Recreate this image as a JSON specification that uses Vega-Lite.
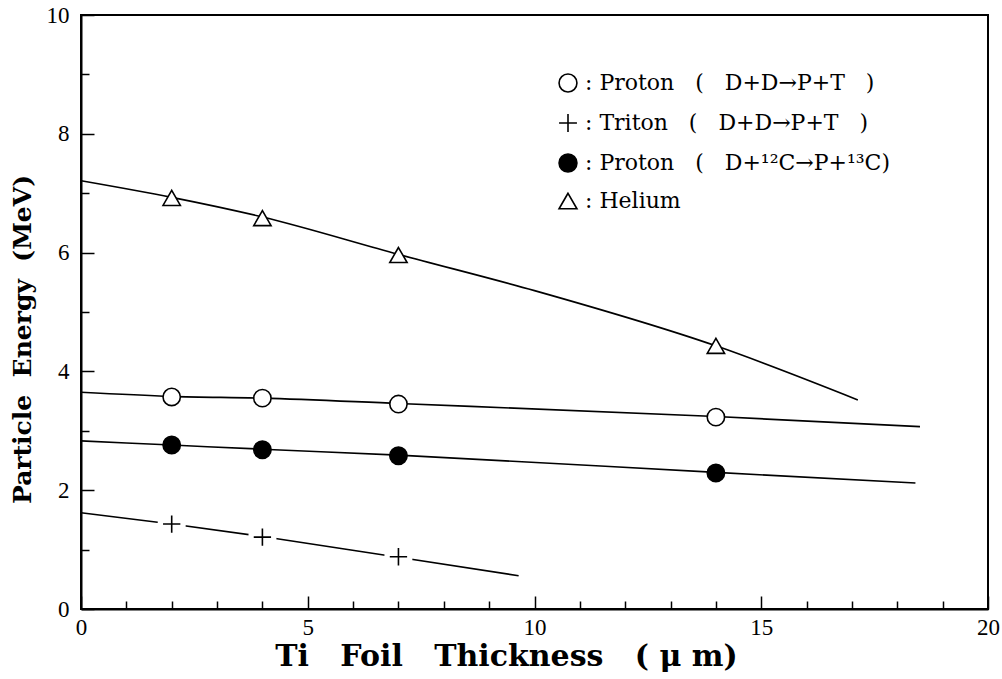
{
  "$schema": "https://vega.github.io/schema/vega-lite/v6.json",
  "width": 907,
  "height": 594,
  "autosize": "none",
  "padding": {"left": 81, "top": 15, "right": 14, "bottom": 70},
  "background": "white",
  "config": {
    "view": {"stroke": "black", "strokeWidth": 2},
    "font": "DejaVu Serif"
  },
  "datasets": {
    "points": [
      {"series": "Proton ( D+D→P+T )", "t": 2, "e": 3.57},
      {"series": "Proton ( D+D→P+T )", "t": 4, "e": 3.55},
      {"series": "Proton ( D+D→P+T )", "t": 7, "e": 3.45},
      {"series": "Proton ( D+D→P+T )", "t": 14, "e": 3.23},
      {"series": "Triton ( D+D→P+T )", "t": 2, "e": 1.43},
      {"series": "Triton ( D+D→P+T )", "t": 4, "e": 1.21},
      {"series": "Triton ( D+D→P+T )", "t": 7, "e": 0.88},
      {"series": "Proton ( D+¹²C→P+¹³C)", "t": 2, "e": 2.76},
      {"series": "Proton ( D+¹²C→P+¹³C)", "t": 4, "e": 2.68},
      {"series": "Proton ( D+¹²C→P+¹³C)", "t": 7, "e": 2.58},
      {"series": "Proton ( D+¹²C→P+¹³C)", "t": 14, "e": 2.29},
      {"series": "Helium", "t": 2, "e": 6.92},
      {"series": "Helium", "t": 4, "e": 6.58},
      {"series": "Helium", "t": 7, "e": 5.96},
      {"series": "Helium", "t": 14, "e": 4.43}
    ],
    "curves": [
      {"series": "Helium", "t": 0, "e": 7.21},
      {"series": "Helium", "t": 2, "e": 6.93},
      {"series": "Helium", "t": 4, "e": 6.6},
      {"series": "Helium", "t": 7, "e": 5.97},
      {"series": "Helium", "t": 10, "e": 5.36},
      {"series": "Helium", "t": 14, "e": 4.43},
      {"series": "Helium", "t": 17.13, "e": 3.52},
      {"series": "Proton ( D+D→P+T )", "t": 0, "e": 3.65},
      {"series": "Proton ( D+D→P+T )", "t": 2, "e": 3.58},
      {"series": "Proton ( D+D→P+T )", "t": 4, "e": 3.55},
      {"series": "Proton ( D+D→P+T )", "t": 7, "e": 3.46},
      {"series": "Proton ( D+D→P+T )", "t": 14, "e": 3.24},
      {"series": "Proton ( D+D→P+T )", "t": 18.5, "e": 3.07},
      {"series": "Proton ( D+¹²C→P+¹³C)", "t": 0, "e": 2.83},
      {"series": "Proton ( D+¹²C→P+¹³C)", "t": 2, "e": 2.76},
      {"series": "Proton ( D+¹²C→P+¹³C)", "t": 4, "e": 2.69},
      {"series": "Proton ( D+¹²C→P+¹³C)", "t": 7, "e": 2.59},
      {"series": "Proton ( D+¹²C→P+¹³C)", "t": 14, "e": 2.3},
      {"series": "Proton ( D+¹²C→P+¹³C)", "t": 18.4, "e": 2.12},
      {"series": "Triton ( D+D→P+T )", "t": 0, "e": 1.62},
      {"series": "Triton ( D+D→P+T )", "t": 2, "e": 1.43},
      {"series": "Triton ( D+D→P+T )", "t": 4, "e": 1.22},
      {"series": "Triton ( D+D→P+T )", "t": 7, "e": 0.87},
      {"series": "Triton ( D+D→P+T )", "t": 9.65, "e": 0.56}
    ]
  },
  "encoding": {
    "x": {
      "field": "t", "type": "quantitative",
      "scale": {"domain": [0, 20], "nice": false, "zero": false},
      "axis": {
        "title": "Ti\u00a0\u00a0\u00a0Foil\u00a0\u00a0\u00a0Thickness\u00a0\u00a0\u00a0(\u00a0μ\u00a0m)",
        "titleFont": "DejaVu Serif", "titleFontSize": 30, "titleFontWeight": "bold",
        "titleX": 425, "titleY": 32, "titleBaseline": "top",
        "values": [0,1,2,3,4,5,6,7,8,9,10,11,12,13,14,15,16,17,18,19,20],
        "labelExpr": "datum.value % 5 === 0 ? datum.label : ''",
        "labelFont": "Liberation Serif", "labelFontSize": 23, "labelColor": "black",
        "labelPadding": 20,
        "tickSize": {"condition": {"test": "datum.value % 5 === 0", "value": -13}, "value": -8},
        "tickColor": "black", "tickWidth": 1.5,
        "domainColor": "black", "domainWidth": 2,
        "grid": false, "labelFlush": false, "labelOverlap": false
      }
    },
    "y": {
      "field": "e", "type": "quantitative",
      "scale": {"domain": [0, 10], "nice": false},
      "axis": {
        "title": "Particle\u00a0\u00a0Energy\u00a0\u00a0(MeV)",
        "titleFont": "DejaVu Serif", "titleFontSize": 25, "titleFontWeight": "bold",
        "titleX": -46, "titleY": 324,
        "values": [0,1,2,3,4,5,6,7,8,9,10],
        "labelExpr": "datum.value % 2 === 0 ? datum.label : ''",
        "labelFont": "Liberation Serif", "labelFontSize": 23, "labelColor": "black",
        "labelPadding": 25,
        "tickSize": {"condition": {"test": "datum.value % 2 === 0", "value": -13}, "value": -8},
        "tickColor": "black", "tickWidth": 1.5,
        "domainColor": "black", "domainWidth": 2,
        "grid": false, "labelFlush": false, "labelOverlap": false
      }
    }
  },
  "layer": [
    {
      "data": {"name": "curves"},
      "mark": {"type": "line", "color": "black", "strokeWidth": 1.6, "interpolate": "monotone"},
      "encoding": {"detail": {"field": "series"}}
    },
    {
      "data": {"name": "points"},
      "transform": [{"filter": "datum.series === 'Triton ( D+D→P+T )'"}],
      "mark": {"type": "point", "shape": "circle", "filled": true, "color": "white", "size": 800, "opacity": 1}
    },
    {
      "data": {"name": "points"},
      "mark": {"type": "point", "size": 300, "strokeWidth": 1.6, "opacity": 1},
      "encoding": {
        "shape": {
          "field": "series", "type": "nominal",
          "scale": {
            "domain": ["Proton ( D+D→P+T )", "Triton ( D+D→P+T )", "Proton ( D+¹²C→P+¹³C)", "Helium"],
            "range": ["circle", "M-1,0H1M0,-1V1", "circle", "triangle-up"]
          },
          "legend": {
            "title": null, "orient": "none", "legendX": 476, "legendY": 57,
            "labelExpr": "':\u00a0' + replace(datum.label, regexp(' ', 'g'), '\u00a0\u00a0\u00a0')",
            "labelFont": "DejaVu Serif", "labelFontSize": 22, "labelColor": "black",
            "labelLimit": 600, "rowPadding": 14, "symbolSize": 320,
            "symbolStrokeWidth": 1.6, "labelOffset": 6
          }
        },
        "fill": {
          "field": "series", "type": "nominal",
          "scale": {
            "domain": ["Proton ( D+D→P+T )", "Triton ( D+D→P+T )", "Proton ( D+¹²C→P+¹³C)", "Helium"],
            "range": ["white", "white", "black", "white"]
          },
          "legend": {
            "title": null, "orient": "none", "legendX": 476, "legendY": 57,
            "labelExpr": "':\u00a0' + replace(datum.label, regexp(' ', 'g'), '\u00a0\u00a0\u00a0')",
            "labelFont": "DejaVu Serif", "labelFontSize": 22, "labelColor": "black",
            "labelLimit": 600, "rowPadding": 14, "symbolSize": 320,
            "symbolStrokeWidth": 1.6, "labelOffset": 6
          }
        },
        "stroke": {
          "field": "series", "type": "nominal",
          "scale": {
            "domain": ["Proton ( D+D→P+T )", "Triton ( D+D→P+T )", "Proton ( D+¹²C→P+¹³C)", "Helium"],
            "range": ["black", "black", "black", "black"]
          },
          "legend": {
            "title": null, "orient": "none", "legendX": 476, "legendY": 57,
            "labelExpr": "':\u00a0' + replace(datum.label, regexp(' ', 'g'), '\u00a0\u00a0\u00a0')",
            "labelFont": "DejaVu Serif", "labelFontSize": 22, "labelColor": "black",
            "labelLimit": 600, "rowPadding": 14, "symbolSize": 320,
            "symbolStrokeWidth": 1.6, "labelOffset": 6
          }
        }
      }
    }
  ]
}
